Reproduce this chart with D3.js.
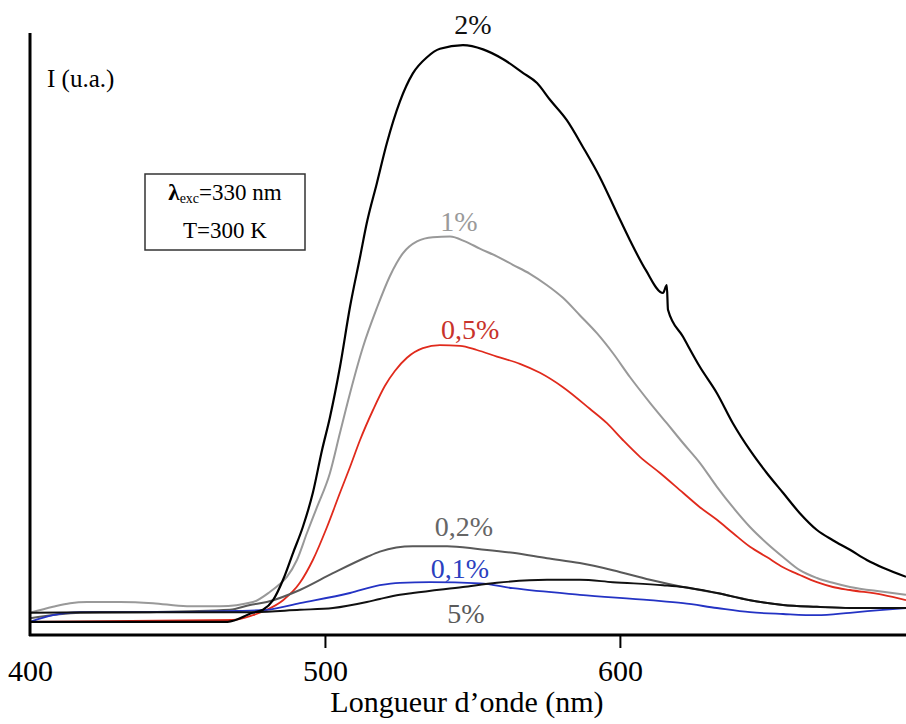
<!DOCTYPE html>
<html>
<head>
<meta charset="utf-8">
<script src="https://cdn.jsdelivr.net/npm/d3@7"></script>
<style>
  html, body { margin: 0; padding: 0; background: #fff; }
  svg { display: block; }
  text { font-family: "Liberation Serif", "DejaVu Serif", serif; }
</style>
</head>
<body>
<svg id="chart" width="906" height="724"></svg>
<script>
// ---- data (wavelength in nm, intensity in arbitrary units 0..100) ----
const xTicks = [400, 500, 600];
const xTickLabels = ["400", "500", "600"];
const xTitle = "Longueur d\u2019onde (nm)";
const yTitle = "I (u.a.)";

const seriesNames = ["1%", "0,5%", "0,2%", "0,1%", "5%", "2%"];
const seriesColors = ["#999999", "#e02a1c", "#595959", "#2433c4", "#111111", "#000000"];
const labelColors = ["#9a9a9a", "#c8332b", "#666666", "#2b3fbf", "#5a5a5a", "#111111"];

// 2%
const nm2 = [400,467,475.5,479,482.4,485.8,489.2,492.5,495.9,499,501.7,505.1,508.5,511.9,514.2,517.6,521,525.4,529.8,534.6,539,546.8,553.6,560.3,567.1,571.9,576.3,582,587.5,593.2,599,603.4,608.8,614.6,615.9,616.3,621.4,627.1,632.9,638.3,644.1,649.8,655.3,661,666.8,672.2,678,683.7,689.2,697];
const i2  = [2.2,2.2,3.7,4.2,5.8,9.2,13.7,18.0,23.7,30.8,36.3,44.7,54.7,63.0,68.7,75.3,82.0,88.9,93.6,96.3,97.7,98.3,97.6,96.0,93.7,92.0,89.2,85.8,81.3,76.3,70.3,65.8,60.8,57.0,58.3,54.2,49.7,44.7,40.3,35.3,30.8,27.0,23.7,20.3,17.5,15.8,14.2,12.5,11.2,9.7];
// 1%
const nm1 = [400,407.8,413.6,419.3,430.5,441.7,453.2,464.4,475.6,481.4,484.7,487.1,490.5,493.9,497.3,501.7,505.1,508.5,512.9,517.6,522,526.4,531.2,536.6,542.4,547.5,552.5,558.3,563.7,569.5,575.3,580.7,586.4,592.2,597.6,603.4,610.2,615.9,621.4,627.1,632.9,638.3,644.1,649.8,655.3,661,666.8,672.2,678,689.2,697];
const i1  = [3.7,4.7,5.3,5.5,5.5,5.3,4.8,4.8,5.5,7.2,8.5,9.7,12.5,17.0,21.3,27.0,33.7,40.3,48.0,54.5,59.8,63.6,65.6,66.3,66.4,65.6,64.4,63.1,61.7,60.2,58.3,56.2,53.3,50.3,47.0,43.0,38.7,35.3,32.0,28.7,24.7,21.3,18.0,15.3,13.0,10.8,9.5,8.7,8.0,7.2,6.7];
// 0,5%
const nm05 = [400,468.8,475.6,480.3,485.8,491.5,495.9,500.7,505.1,508.5,511.9,516.3,520.3,523.7,527.8,533.2,539,545.8,551.5,558.3,566.1,572.9,580.7,589.8,595.6,601,606.8,613.6,621.4,627.1,632.9,638.3,644.1,649.8,655.3,661,666.8,672.2,678,689.2,697];
const i05  = [2.2,2.5,3.3,4.2,5.8,8.7,12.5,18.0,23.7,28.0,32.5,37.5,41.5,44.0,46.2,47.8,48.3,48.2,47.5,46.4,45.2,43.7,41.3,37.7,35.3,32.5,29.7,27.0,23.7,21.3,19.2,17.0,14.7,13.0,11.3,10.0,8.8,8.0,7.5,6.7,5.8];
// 0,2%
const nm02 = [400,417,440.7,467.8,474.6,480.3,491.5,502.7,514.2,518.6,529.8,541.4,552.5,563.7,575.3,586.4,597.6,610.2,621.4,632.9,644.1,655.3,666.8,678,697];
const i02  = [2.8,3.7,3.8,4.2,5.0,5.5,7.5,10.3,13.0,13.9,14.8,14.8,14.3,13.7,12.8,12.0,10.8,9.2,8.0,7.0,5.8,5.0,4.7,4.5,4.5];
// 0,1%
const nm01 = [400,407.8,417,440.7,470.2,480.3,491.5,508.5,518.6,525.4,535.6,552.5,563.7,586.4,610.2,621.4,632.9,644.1,655.3,666.8,678,689.2,697];
const i01  = [2.2,3.3,3.8,3.8,4.0,4.2,5.3,7.0,8.3,8.7,8.8,8.6,7.8,6.7,5.8,5.3,4.5,3.8,3.5,3.3,3.7,4.2,4.5];
// 5%
const nm5 = [400,423.7,457.6,474.6,491.5,502.7,514.2,518.6,525.4,529.8,546.8,558.3,575.3,586.4,597.6,614.6,621.4,632.9,644.1,655.3,666.8,678,697];
const i5  = [3.7,3.8,3.8,3.8,4.2,4.5,5.5,6.0,6.7,7.0,8.0,8.7,9.2,9.2,8.8,8.3,8.0,7.0,5.8,5.0,4.7,4.5,4.5];

const seriesX = [nm1, nm05, nm02, nm01, nm5, nm2];
const seriesY = [i1, i05, i02, i01, i5, i2];
const seriesWidths = [2, 1.8, 2, 1.8, 1.9, 2.2];

// label anchor positions given in data units (nm, intensity)
const labelNm = [545.4, 549.2, 547.1, 545.8, 547.8, 550.2];
const labelI  = [67.3, 49.3, 16.5, 9.5, 2.0, 100.2];

// ---- drawing ----
const svg = d3.select("#chart");
const x = d3.scaleLinear().domain([400, 697]).range([30, 906]);
const y = d3.scaleLinear().domain([0, 100]).range([635, 35]);

const line = d3.line()
  .x(d => x(d[0]))
  .y(d => y(d[1]))
  .curve(d3.curveMonotoneX);

seriesX.forEach((xs, k) => {
  const pts = xs.map((v, j) => [v, seriesY[k][j]]);
  svg.append("path")
    .attr("d", line(pts))
    .attr("fill", "none")
    .attr("stroke", seriesColors[k])
    .attr("stroke-width", seriesWidths[k])
    .attr("stroke-linejoin", "round");
});

// curve labels
seriesNames.forEach((name, k) => {
  svg.append("text")
    .attr("x", x(labelNm[k]))
    .attr("y", y(labelI[k]))
    .attr("text-anchor", "middle")
    .attr("font-size", 28)
    .attr("fill", labelColors[k])
    .text(name);
});

// x axis
const xAxis = d3.axisBottom(x)
  .tickValues(xTicks)
  .tickFormat((d, i) => xTickLabels[i])
  .tickSize(13)
  .tickPadding(12);
const gx = svg.append("g").attr("transform", "translate(0,635)").call(xAxis);
gx.select(".domain").remove();
gx.selectAll(".tick line").attr("stroke", "#000").attr("stroke-width", 2)
  .filter(d => d === 400).remove();
gx.selectAll(".tick text")
  .attr("font-family", "Liberation Serif, serif")
  .attr("font-size", 30)
  .attr("fill", "#000");
svg.append("line").attr("x1", 29).attr("x2", 906).attr("y1", 635).attr("y2", 635)
  .attr("stroke", "#000").attr("stroke-width", 3);

// y axis line
svg.append("line").attr("x1", 30).attr("x2", 30).attr("y1", 33).attr("y2", 636)
  .attr("stroke", "#000").attr("stroke-width", 3);

// titles
svg.append("text").attr("x", 467).attr("y", 712).attr("text-anchor", "middle")
  .attr("font-size", 30).attr("fill", "#000").text(xTitle);
svg.append("text").attr("x", 47).attr("y", 87)
  .attr("font-size", 25).attr("fill", "#000").text(yTitle);

// info box
svg.append("rect").attr("x", 145).attr("y", 174).attr("width", 160).attr("height", 76)
  .attr("fill", "#fff").attr("stroke", "#333").attr("stroke-width", 1.5);
const t1 = svg.append("text").attr("x", 225).attr("y", 200).attr("text-anchor", "middle")
  .attr("font-size", 23).attr("fill", "#000");
t1.append("tspan").attr("font-weight", "bold").text("\u03bb");
t1.append("tspan").attr("font-size", 14).attr("dy", 3).text("exc");
t1.append("tspan").attr("dy", -3).text("=330 nm");
svg.append("text").attr("x", 225).attr("y", 238).attr("text-anchor", "middle")
  .attr("font-size", 23).attr("fill", "#000").text("T=300 K");
</script>
</body>
</html>
